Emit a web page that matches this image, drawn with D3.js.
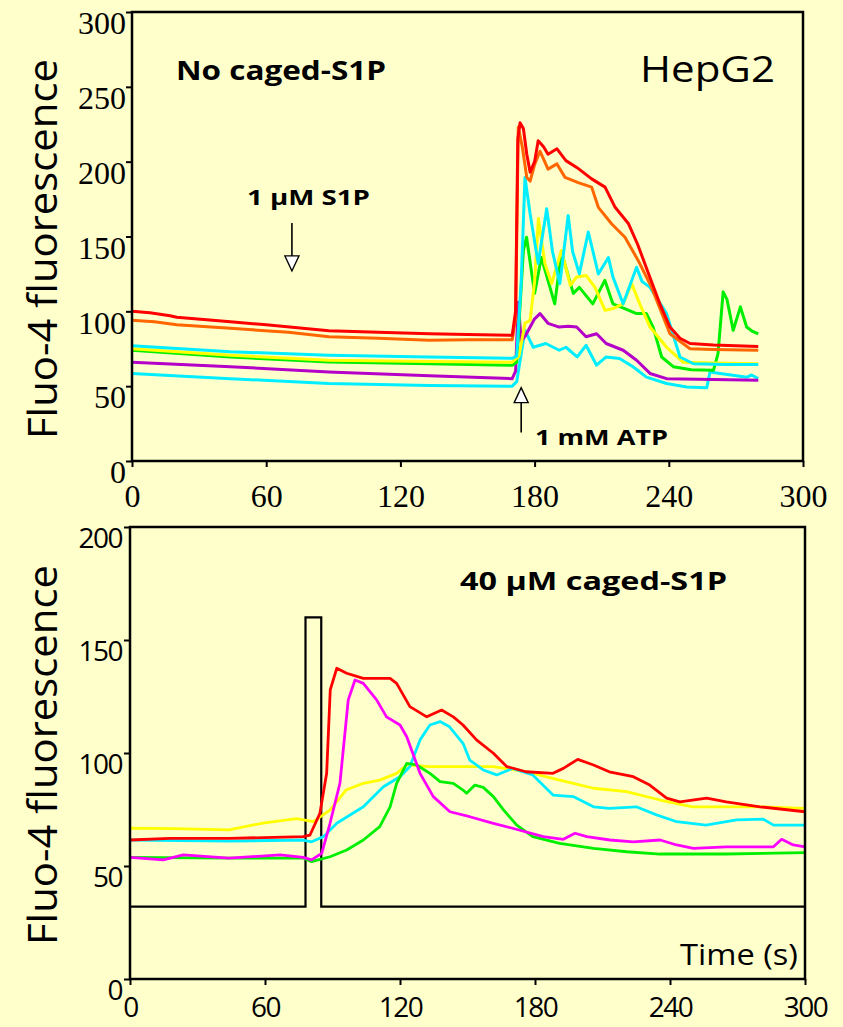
<!DOCTYPE html>
<html>
<head>
<meta charset="utf-8">
<script src="https://cdn.jsdelivr.net/npm/d3@7/dist/d3.min.js"></script>
<style>
  body { margin: 0; background: #ffffcc; }
  svg { display: block; }
</style>
</head>
<body>
<script>
// ---- data: [time (s), fluorescence] ----
// top panel, HepG2, no caged-S1P
const topRed = [[0,100],[8,99],[17,97],[20,96],[44,93],[60,91],[88,87],[110,86],[133,85],[150,84.5],[170,84],[171.5,100],[172.5,215],[173.5,226],[175,222],[176.5,205],[178,193],[180,200],[181.6,214],[184,210],[186,205],[190,208.6],[194,200.7],[199,196],[205.5,188.5],[211.5,183],[216,169.5],[222,158.5],[226,145],[231,125],[236,105],[240.5,89.5],[245,82],[249.5,78.5],[260,77.5],[270,77],[280,76.5]];
const topOrange = [[0,94],[10,93],[20,91],[44,88.7],[70,86],[88,83],[110,82],[133,80.7],[150,81],[170,81],[171.5,95],[172.7,223],[174.5,210],[176.5,189.5],[178,187],[180,198],[182.4,207],[186,195],[190,198.5],[193.6,189.5],[199.5,186],[205.5,183],[208.5,169.5],[214.4,158.5],[220.4,149.5],[226.3,134],[232.3,116],[240.5,85],[249.5,75],[260,74.5],[280,74]];
const topCyan1 = [[0,77],[44,73],[88,70.7],[133,69.5],[170,68.6],[172,70],[174,120],[175.7,189.5],[178,165],[181.6,132],[185.4,168.5],[188,140],[191.3,118.5],[195,164],[197,140],[200,125],[204,153],[208.5,125],[213,136],[215,123],[219.6,105],[225.6,129.5],[228,120],[231.6,116],[239,98.5],[245,69.5],[251,65],[265,64.5],[280,64.5]];
const topYellow = [[0,75],[44,70.7],[88,67.3],[133,66.5],[170,66],[173,70],[175.7,92],[178,94],[180,120],[181.7,162],[184.6,132],[187.6,118.5],[192,140.7],[196,117.3],[198.8,123],[203,124],[207,116],[211.5,100.7],[215,101.8],[219.6,105],[223.4,118.5],[227,105],[231.6,89.5],[239,76],[246.4,66],[260,65.5],[280,65]];
const topGreen = [[0,74],[44,69.5],[88,66.2],[133,65],[170,64],[172,66],[175,140.7],[176.4,149.5],[180,112],[183,136],[189,105],[192,139.5],[197.3,112],[200,116],[206,105],[211.4,120.7],[215,105],[220,102],[225.6,98.5],[230,98.5],[233,89.5],[236.8,69.5],[242,63],[250,61],[260,60.7],[262,71.8],[264.3,113],[266,108],[268.8,87.3],[272,103],[274.8,89.5],[277,87],[280,85]];
const topPurple = [[0,66],[44,63],[88,59.5],[133,57],[170,55],[171.5,60],[172.7,106],[174,80],[176,84],[180,95],[182.4,98.5],[186,92],[191,89.5],[195,90],[198.8,89.5],[203,83],[207.7,85],[212,78.5],[219.6,74],[225.6,67.3],[231.6,58.5],[239,55],[260,54.5],[280,54]];
const topCyan2 = [[0,58.5],[44,55],[88,51.8],[133,50.5],[170,50],[172,53],[175.7,87.3],[179.4,76],[185,78.5],[191,74],[194,76],[199,69.5],[203,77.3],[207.7,64],[212,69.5],[218,68.5],[224,63],[230,56],[239,51.8],[248,49.5],[257,49],[258.4,59.5],[263,58.5],[275,56],[277,57.5],[280,55]];

// bottom panel, 40 uM caged-S1P
const botYellow = [[0,66.7],[20,66.5],[44,66],[59,69],[74,71],[81.5,69.6],[89,74.8],[96,83.6],[103.7,86.6],[111,88],[118.5,91],[123,94.7],[133,94],[148,94],[161.5,94],[176,91.7],[191,88],[206,84.4],[220.7,82.9],[235.6,79.2],[250,76.2],[265,76.2],[280,76.2],[300,75.5]];
const botCyan = [[0,61.5],[44,61],[77,61.5],[80.7,60.7],[86,63],[91.9,68.9],[103.7,76.2],[112.6,85.1],[120,89.5],[124.4,94],[128.9,105.8],[133.3,112.4],[137.8,113.9],[142,111.6],[148,104.3],[151,96.9],[157,92.5],[163,90.3],[170,93.2],[179,90.3],[188,81.4],[197,80.7],[206,76.2],[213,75.5],[225,76.2],[234,72.6],[243,69.6],[256,68.1],[269.6,70.4],[281.5,70.7],[286,68.1],[300,68.1]];
const botGreen = [[0,53.8],[44,53.5],[77,53.5],[80.7,51.9],[88.9,54.1],[96.3,57.1],[103.7,61.5],[111,67.4],[115.6,76.2],[118.5,86.6],[123,95.4],[127.4,94.7],[133.3,91],[137.8,87.3],[143.7,86.6],[148,83.6],[149.6,82.2],[153.3,85.8],[157,84.8],[161.5,80.7],[166,74.8],[171.9,68.1],[179,63],[191,60],[206,57.8],[220.7,56.3],[235.6,55.3],[265,55.3],[300,55.9]];
const botRed = [[0,61.5],[17.8,62.2],[44,62.2],[77,63],[80,63.7],[84.4,73.3],[87.4,91],[89,127.9],[91.9,137.5],[96.3,135.3],[103.7,133],[115.6,133],[118.5,130.8],[124.4,120.5],[131.9,116],[138.5,119],[143.7,116],[148,112.4],[154,105.8],[161.5,99.9],[167.4,94],[176,91.7],[188,91],[192.6,93.2],[199,97.2],[206,94.7],[213,91.7],[223.7,89.5],[231,85.8],[238.5,80],[244.4,78.4],[256.3,80],[265,78.4],[280,76.2],[300,74]];
const botMagenta = [[0,53.8],[14.8,52.7],[23.7,54.9],[44,53.5],[66.7,54.9],[77,53.8],[80.7,52.7],[85.2,55.6],[88.9,68.9],[93.3,86.6],[97,123.5],[100,132.3],[103.7,130.8],[109.6,123.5],[114,116],[120,112.4],[123,107.2],[128.9,91],[134.8,80.7],[142.2,74],[151,71.8],[161.5,68.9],[170,66.7],[183.7,63],[192.6,61.8],[197.8,64.5],[203,63],[213.3,61.5],[223.7,60.7],[235.6,61.5],[243,59.3],[250.4,57.8],[265,58.5],[286,58.5],[289.6,61.8],[294.8,59.3],[300,58.5]];

// uncaging light pulse (bottom panel)
const pulseT = [0, 78, 78, 85, 85, 300];
const pulseV = [32, 32, 160, 160, 32, 32];

const xTicks = [0, 60, 120, 180, 240, 300];
const topYTicks = [0, 50, 100, 150, 200, 250, 300];
const botYTicks = [0, 50, 100, 150, 200];

const W = 843, H = 1027;
const svg = d3.select("body").append("svg").attr("width", W).attr("height", H);
svg.append("rect").attr("width", W).attr("height", H).attr("fill", "#ffffcc");

const serif = "'Liberation Serif', 'DejaVu Serif', serif";
const sans = "'Open Sans', 'Noto Sans', sans-serif";

// ---------- top panel ----------
const xTop = d3.scaleLinear().domain([0, 300]).range([132, 803]);
const yTop = d3.scaleLinear().domain([0, 300]).range([461, 12]);

const lineTop = d3.line().x(d => xTop(d[0])).y(d => yTop(d[1]));

const topSeries = [
  {data: topCyan2, color: "#00eeff"},
  {data: topPurple, color: "#b400c8"},
  {data: topGreen, color: "#00ee00"},
  {data: topYellow, color: "#ffff00"},
  {data: topCyan1, color: "#00eeff"},
  {data: topOrange, color: "#ff6600"},
  {data: topRed, color: "#ff0000"}
];

const gTop = svg.append("g");
topSeries.forEach(s => {
  gTop.append("path").attr("d", lineTop(s.data))
    .attr("fill", "none").attr("stroke", s.color)
    .attr("stroke-width", 3).attr("stroke-linejoin", "round");
});

// frame
gTop.append("rect")
  .attr("x", xTop(0)).attr("y", yTop(300))
  .attr("width", xTop(300) - xTop(0)).attr("height", yTop(0) - yTop(300))
  .attr("fill", "none").attr("stroke", "#000").attr("stroke-width", 2.5);

// axes (labels hang just below their tick, like the original)
const topYAxis = gTop.append("g").attr("transform", "translate(" + xTop(0) + ",0)")
  .call(d3.axisLeft(yTop).tickValues(topYTicks).tickSize(6).tickPadding(0));
const topXAxis = gTop.append("g").attr("transform", "translate(0," + yTop(0) + ")")
  .call(d3.axisBottom(xTop).tickValues(xTicks).tickSize(6).tickPadding(18));
[topYAxis, topXAxis].forEach(a => {
  a.attr("font-family", null).attr("font-size", null);
  a.select(".domain").remove();
  a.selectAll("line").attr("stroke", "#000").attr("stroke-width", 2);
  a.selectAll("text").style("font-family", serif).style("font-size", "32px").attr("fill", "#000");
});
topYAxis.selectAll("text").attr("dy", "0.68em");
topXAxis.selectAll("text").attr("dy", "0.68em");

// y title
svg.append("text")
  .attr("transform", "translate(57,249) rotate(-90)")
  .attr("text-anchor", "middle")
  .style("font-family", sans).style("font-size", "41px")
  .attr("textLength", 380).attr("lengthAdjust", "spacingAndGlyphs")
  .text("Fluo-4 fluorescence");

gTop.append("text").attr("x", 176).attr("y", 80)
  .style("font-family", sans).attr("font-weight", "bold").style("font-size", "27px")
  .attr("textLength", 210).attr("lengthAdjust", "spacingAndGlyphs")
  .text("No caged-S1P");
gTop.append("text").attr("x", 640).attr("y", 82)
  .style("font-family", sans).style("font-size", "36px")
  .attr("textLength", 135).attr("lengthAdjust", "spacingAndGlyphs")
  .text("HepG2");
gTop.append("text").attr("x", 247).attr("y", 205)
  .style("font-family", sans).attr("font-weight", "bold").style("font-size", "22px")
  .attr("textLength", 123).attr("lengthAdjust", "spacingAndGlyphs")
  .text("1 µM S1P");
gTop.append("text").attr("x", 535).attr("y", 445)
  .style("font-family", sans).attr("font-weight", "bold").style("font-size", "22px")
  .attr("textLength", 133).attr("lengthAdjust", "spacingAndGlyphs")
  .text("1 mM ATP");

// arrows (open heads)
function arrow(g, x, yTail, yTip) {
  const dir = yTip > yTail ? 1 : -1;
  const headLen = 15, half = 7;
  g.append("line").attr("x1", x).attr("x2", x)
    .attr("y1", yTail).attr("y2", yTip - dir * headLen)
    .attr("stroke", "#000").attr("stroke-width", 1.6);
  g.append("path")
    .attr("d", "M" + (x - half) + "," + (yTip - dir * headLen) + "L" + (x + half) + "," + (yTip - dir * headLen) + "L" + x + "," + yTip + "Z")
    .attr("fill", "#fff").attr("stroke", "#000").attr("stroke-width", 1.4);
}
arrow(gTop, xTop(71.5), yTop(159), yTop(127));
arrow(gTop, xTop(174), yTop(19), yTop(49));

// ---------- bottom panel ----------
const xBot = d3.scaleLinear().domain([0, 300]).range([130, 805]);
const yBot = d3.scaleLinear().domain([0, 200]).range([979, 527]);
const lineBot = d3.line().x(d => xBot(d[0])).y(d => yBot(d[1]));

const gBot = svg.append("g");

gBot.append("path")
  .attr("d", lineBot(pulseT.map((t, i) => [t, pulseV[i]])))
  .attr("fill", "none").attr("stroke", "#000").attr("stroke-width", 2.2);

const botSeries = [
  {data: botYellow, color: "#ffff00"},
  {data: botCyan, color: "#00eeff"},
  {data: botGreen, color: "#00ee00"},
  {data: botRed, color: "#ff0000"},
  {data: botMagenta, color: "#ff00ff"}
];
botSeries.forEach(s => {
  gBot.append("path").attr("d", lineBot(s.data))
    .attr("fill", "none").attr("stroke", s.color)
    .attr("stroke-width", 2.8).attr("stroke-linejoin", "round");
});

gBot.append("rect")
  .attr("x", xBot(0)).attr("y", yBot(200))
  .attr("width", xBot(300) - xBot(0)).attr("height", yBot(0) - yBot(200))
  .attr("fill", "none").attr("stroke", "#000").attr("stroke-width", 2.5);

const botYAxis = gBot.append("g").attr("transform", "translate(" + xBot(0) + ",0)")
  .call(d3.axisLeft(yBot).tickValues(botYTicks).tickSize(6).tickPadding(2));
const botXAxis = gBot.append("g").attr("transform", "translate(0," + yBot(0) + ")")
  .call(d3.axisBottom(xBot).tickValues(xTicks).tickSize(6).tickPadding(12));
[botYAxis, botXAxis].forEach(a => {
  a.attr("font-family", null).attr("font-size", null);
  a.select(".domain").remove();
  a.selectAll("line").attr("stroke", "#000").attr("stroke-width", 2);
  a.selectAll("text").style("font-family", sans).style("font-size", "28px").attr("fill", "#000")
    .attr("letter-spacing", -1.5);
});
botYAxis.selectAll("text").attr("dy", "0.72em");
botXAxis.selectAll("text").attr("dy", "0.72em");

svg.append("text")
  .attr("transform", "translate(57,755) rotate(-90)")
  .attr("text-anchor", "middle")
  .style("font-family", sans).style("font-size", "41px")
  .attr("textLength", 380).attr("lengthAdjust", "spacingAndGlyphs")
  .text("Fluo-4 fluorescence");

gBot.append("text").attr("x", 460).attr("y", 590)
  .style("font-family", sans).attr("font-weight", "bold").style("font-size", "25px")
  .attr("textLength", 267).attr("lengthAdjust", "spacingAndGlyphs")
  .text("40 µM caged-S1P");
gBot.append("text").attr("x", 680).attr("y", 965)
  .style("font-family", sans).style("font-size", "29px")
  .attr("textLength", 118).attr("lengthAdjust", "spacingAndGlyphs")
  .text("Time (s)");
</script>
</body>
</html>
